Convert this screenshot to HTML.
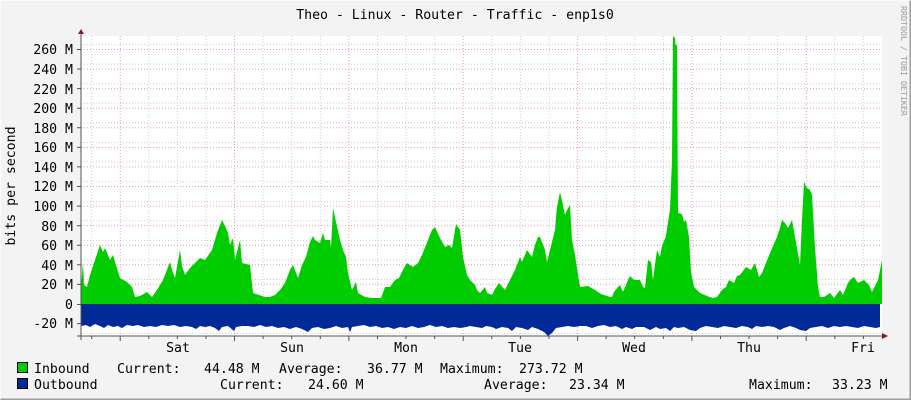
<!DOCTYPE html>
<html><head><meta charset="utf-8"><style>
html,body{margin:0;padding:0;background:#f3f3f3}
svg{display:block}
text{font-family:"DejaVu Sans Mono","Liberation Mono",monospace;font-size:13.2px;fill:#000}
</style></head><body>
<svg width="911" height="400" viewBox="0 0 911 400" xmlns="http://www.w3.org/2000/svg">
<rect x="0" y="0" width="911" height="400" fill="#f3f3f3"/>
<path d="M0.5 399.5V0.5H910.5" fill="none" stroke="#fcfcfc"/>
<path d="M0.5 399.5H910.5V0.5" fill="none" stroke="#9e9e9e" stroke-width="2"/>
<rect x="81" y="36" width="801" height="300" fill="#fff"/>
<g stroke="#cfcfcf" stroke-dasharray="1,2" stroke-width="1">
<path d="M81 299.1H882M81 279.5H882M81 259.9H882M81 240.4H882M81 220.8H882M81 201.2H882M81 181.6H882M81 162H882M81 142.5H882M81 122.9H882M81 103.3H882M81 83.7H882M81 64.1H882M81 44.6H882M81 313.8H882M81 333.4H882"/>
<path d="M91.6 36V336M148.8 36V336M177.4 36V336M206 36V336M263.1 36V336M291.7 36V336M320.3 36V336M377.5 36V336M406 36V336M434.6 36V336M491.8 36V336M520.4 36V336M549 36V336M606.1 36V336M634.7 36V336M663.3 36V336M720.5 36V336M749 36V336M777.6 36V336M834.8 36V336M863.4 36V336"/>
</g>
<g stroke="#e8a0a0" stroke-dasharray="1,2" stroke-width="1">
<path d="M81 304H882M81 284.4H882M81 264.8H882M81 245.3H882M81 225.7H882M81 206.1H882M81 186.5H882M81 166.9H882M81 147.4H882M81 127.8H882M81 108.2H882M81 88.6H882M81 69H882M81 49.5H882M81 323.6H882"/>
<path d="M120.2 36V336M234.5 36V336M348.9 36V336M463.2 36V336M577.6 36V336M691.9 36V336M806.2 36V336"/>
</g>
<path fill="#002a97" d="M81 304V326L86 325L90 327L95 324L100 326L104 328L108 325L113 327L118 326L122 328L127 325L133 326L138 325L144 327L150 326L156 327L162 325L168 326L174 325L180 327L186 326L192 327L196 329L200 326L205 327L210 326L215 328L219 331L222 327L228 326L234 331L236 327L242 326L248 326L254 327L260 325L266 327L272 326L278 328L284 327L290 329L296 327L302 329L308 332L312 328L318 327L324 329L330 328L336 326L342 328L348 327L350 332L352 327L358 326L364 325L370 327L376 326L382 328L388 327L394 329L400 327L406 328L412 326L418 328L424 327L430 325L436 327L442 326L448 328L454 327L460 328L466 327L470 326L476 327L482 328L486 326L492 327L496 329L502 327L508 328L512 331L516 327L522 328L528 330L532 327L538 329L544 332L548 336L552 333L556 328L562 327L568 326L574 327L580 326L586 326L592 328L598 326L604 325L610 327L616 326L622 329L626 327L632 329L636 327L644 327L650 330L656 327L660 329L666 328L670 331L674 327L678 328L684 327L690 330L696 331L700 328L706 326L712 327L718 328L724 326L730 327L736 328L742 326L748 327L752 329L756 326L762 327L768 326L774 327L780 330L784 328L790 326L796 328L800 330L806 331L810 328L816 327L822 326L828 328L834 326L840 327L846 326L852 327L858 328L864 326L870 327L876 328L880 327V304Z"/>
<path fill="#00cc00" d="M81 304V288L83 262L84 285L87 287L90 275L95 260L100 245L103 252L105 248L110 260L113 255L115 262L120 278L127 282L132 287L135 297L140 296L147 292L152 297L157 290L163 280L170 262L172 270L175 278L180 250L182 266L185 275L190 268L200 258L205 260L212 250L217 233L222 220L225 226L228 233L230 245L233 238L235 260L240 240L242 263L250 265L253 293L265 297L270 297L275 295L280 290L285 283L290 270L293 265L298 278L302 265L306 257L310 242L313 236L315 240L320 243L323 233L325 240L330 240L331 248L333 208L336 222L340 240L343 250L346 257L348 273L352 290L356 282L358 293L365 297L372 298L378 298L381 298L385 287L390 287L395 280L399 278L403 270L407 263L413 267L418 263L422 255L428 240L432 230L435 227L440 238L445 247L449 245L452 248L456 224L460 230L463 257L467 275L470 280L475 285L477 290L480 293L485 287L487 293L492 295L495 289L499 283L505 290L510 280L515 270L520 257L522 262L527 250L532 257L535 245L538 237L540 237L545 250L547 262L550 250L555 230L557 207L560 192L563 205L565 215L567 210L570 205L572 240L575 255L578 275L580 287L588 286L595 290L601 294L610 297L612 297L614 292L618 287L620 285L623 292L628 280L630 276L634 280L640 280L643 287L645 288L648 260L651 262L653 280L657 250L660 257L662 246L666 236L668 222L670 210L672 160L673 36L675 38L675.5 45L677 45L678 213L682 214L684 222L686 220L689 237L691 272L694 287L700 293L707 296L713 298L717 297L722 290L726 287L729 280L734 283L737 276L740 275L746 267L751 270L755 263L759 277L762 273L768 258L773 246L777 237L780 228L782 220L785 223L788 228L792 220L795 237L800 265L802 220L804 182L807 188L810 190L812 195L815 248L818 287L820 297L824 297L830 293L834 298L840 290L843 295L848 283L850 280L854 277L858 283L864 280L869 285L872 292L878 280L881 265L882 260V304Z"/>
<path d="M81 30V340M77 336H886" stroke="#555" stroke-width="1"/>
<g stroke="#555"><path d="M77 304.5H81M77 284.4H81M77 264.8H81M77 245.3H81M77 225.7H81M77 206.1H81M77 186.5H81M77 166.9H81M77 147.4H81M77 127.8H81M77 108.2H81M77 88.6H81M77 69H81M77 49.5H81M77 323.6H81"/>
<path d="M91.6 336V339M120.2 336V341M148.8 336V339M177.4 336V339M206 336V339M234.5 336V341M263.1 336V339M291.7 336V339M320.3 336V339M348.9 336V341M377.5 336V339M406 336V339M434.6 336V339M463.2 336V341M491.8 336V339M520.4 336V339M549 336V339M577.6 336V341M606.1 336V339M634.7 336V339M663.3 336V339M691.9 336V341M720.5 336V339M749 336V339M777.6 336V339M806.2 336V341M834.8 336V339M863.4 336V339"/></g>
<path d="M78 34L81 29L84 34Z" fill="#8b1a1a"/>
<path d="M882 333L888 336L882 339Z" fill="#8b1a1a"/>
<g text-anchor="end">
<text x="73" y="309">0</text>
<text x="73" y="328">-20 M</text>
<text x="73" y="289">20 M</text>
<text x="73" y="270">40 M</text>
<text x="73" y="250">60 M</text>
<text x="73" y="231">80 M</text>
<text x="73" y="211">100 M</text>
<text x="73" y="191">120 M</text>
<text x="73" y="172">140 M</text>
<text x="73" y="152">160 M</text>
<text x="73" y="133">180 M</text>
<text x="73" y="113">200 M</text>
<text x="73" y="94">220 M</text>
<text x="73" y="74">240 M</text>
<text x="73" y="54">260 M</text>
</g>
<g text-anchor="middle">
<text x="178" y="352">Sat</text>
<text x="292" y="352">Sun</text>
<text x="406" y="352">Mon</text>
<text x="520" y="352">Tue</text>
<text x="634" y="352">Wed</text>
<text x="749" y="352">Thu</text>
<text x="863" y="352">Fri</text>
<text x="455" y="19">Theo - Linux - Router - Traffic - enp1s0</text>
<text transform="translate(15 186) rotate(-90)">bits per second</text>
</g>
<text transform="translate(901 6) rotate(90)" style="font-size:8.3px;fill:#999">RRDTOOL / TOBI OETIKER</text>
<rect x="17.5" y="362.5" width="10" height="10" fill="#00cc00" stroke="#000"/>
<rect x="17.5" y="378.5" width="10" height="10" fill="#002a97" stroke="#000"/>
<text x="34" y="373">Inbound</text>
<text x="117" y="373">Current:</text>
<text x="204" y="373">44.48 M</text>
<text x="279" y="373">Average:</text>
<text x="367" y="373">36.77 M</text>
<text x="440" y="373">Maximum:</text>
<text x="519" y="373">273.72 M</text>
<text x="34" y="389">Outbound</text>
<text x="220" y="389">Current:</text>
<text x="308" y="389">24.60 M</text>
<text x="484" y="389">Average:</text>
<text x="569" y="389">23.34 M</text>
<text x="749" y="389">Maximum:</text>
<text x="832" y="389">33.23 M</text>
</svg>
</body></html>
